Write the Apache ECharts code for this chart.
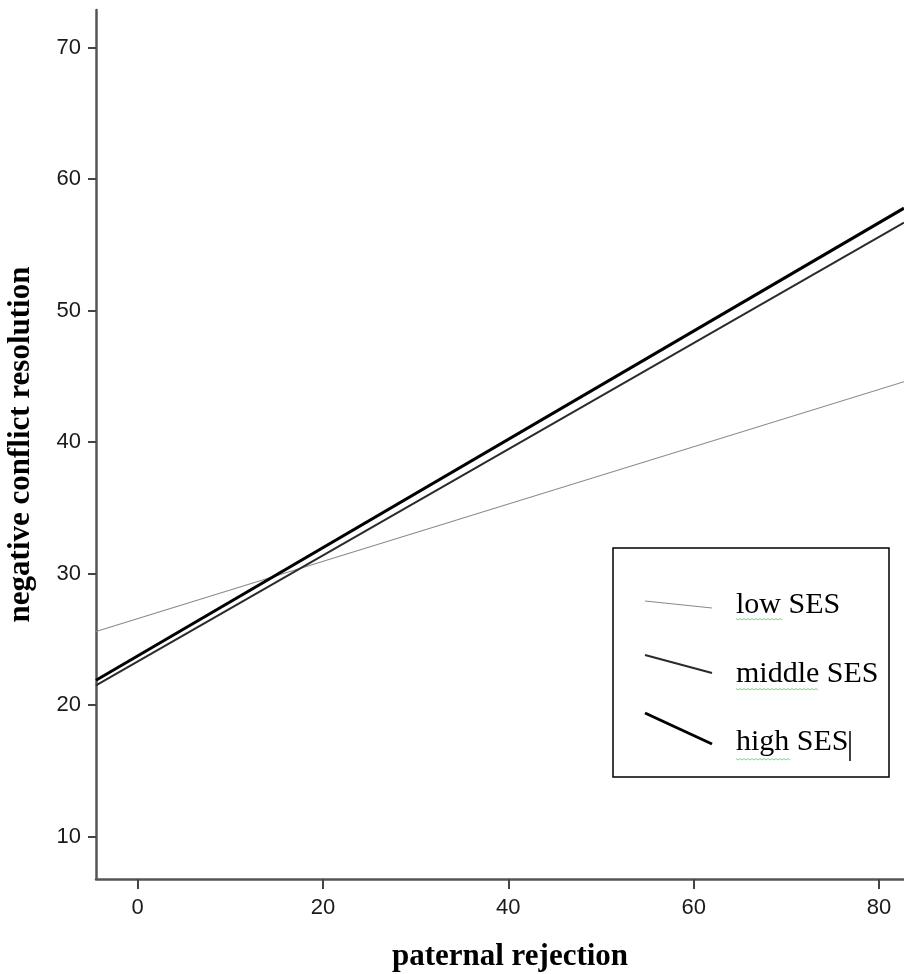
<!DOCTYPE html>
<html>
<head>
<meta charset="utf-8">
<script src="https://cdn.jsdelivr.net/npm/echarts@6/dist/echarts.min.js"></script>
<style>
html,body{margin:0;padding:0;background:#fff;}
#chart{width:904px;height:974px;}
</style>
</head>
<body>
<div id="chart"></div>
<script>
// Data (fitted regression lines at the x-axis extremes)
const xEnds = [-4.5, 82.7];
const lowSES = [25.6, 44.6];
const middleSES = [21.5, 56.7];
const highSES = [21.9, 57.8];
const xTicks = [0, 20, 40, 60, 80];
const yTicks = [10, 20, 30, 40, 50, 60, 70];
const seriesNames = ['low SES', 'middle SES', 'high SES'];

const pairs = v => xEnds.map((x, i) => [x, v[i]]);

const chart = echarts.init(document.getElementById('chart'));
const serifName = {fontFamily: 'Liberation Serif', fontWeight: 'bold', fontSize: 31, color: '#000'};
const tickFont = {fontFamily: 'Liberation Sans', fontSize: 22, color: '#1a1a1a'};

function legendItem(y, idx, lw, color, y1, y2) {
  return [
    {type: 'line', shape: {x1: 645, y1: y1, x2: 712, y2: y2}, style: {stroke: color, lineWidth: lw}},
    {type: 'text', x: 736, y: y, style: {text: seriesNames[idx], font: '30px "Liberation Serif"', fill: '#000', verticalAlign: 'middle'}}
  ];
}
function squiggle(x1, x2, y) {
  const pts = [];
  for (let x = x1, k = 0; x <= x2; x += 2, k++) pts.push([x, y + (k % 2 ? 1 : -0.5)]);
  return {type: 'polyline', shape: {points: pts}, style: {stroke: '#6bbf6b', lineWidth: 0.8, fill: null}};
}

chart.setOption({
  animation: false,
  backgroundColor: '#fff',
  grid: {left: 96, top: 10, right: 0, bottom: 95, containLabel: false, outerBoundsMode: 'none'},
  xAxis: {
    type: 'value', min: xEnds[0], max: xEnds[1],
    name: 'paternal rejection', nameLocation: 'middle', nameGap: 62,
    nameTextStyle: Object.assign({padding: [0, 0, 0, 20]}, serifName),
    axisLine: {show: true, onZero: false, lineStyle: {color: '#555', width: 2.5}},
    axisTick: {show: true, length: 10, customValues: xTicks, lineStyle: {color: '#444', width: 2}},
    axisLabel: Object.assign({customValues: xTicks, margin: 18}, tickFont),
    splitLine: {show: false}
  },
  yAxis: {
    type: 'value', min: 6.78, max: 72.87,
    name: 'negative conflict resolution', nameLocation: 'middle', nameGap: 60, nameTextStyle: serifName,
    axisLine: {show: true, onZero: false, lineStyle: {color: '#555', width: 2.5}},
    axisTick: {show: true, length: 8, customValues: yTicks, lineStyle: {color: '#444', width: 2}},
    axisLabel: Object.assign({customValues: yTicks, margin: 15}, tickFont),
    splitLine: {show: false}
  },
  series: [
    {name: seriesNames[0], type: 'line', data: pairs(lowSES), showSymbol: false, lineStyle: {color: '#8a8a8a', width: 1.2}, z: 2},
    {name: seriesNames[1], type: 'line', data: pairs(middleSES), showSymbol: false, lineStyle: {color: '#2a2a2a', width: 2}, z: 3},
    {name: seriesNames[2], type: 'line', data: pairs(highSES), showSymbol: false, lineStyle: {color: '#000', width: 3}, z: 4}
  ],
  graphic: [
    {type: 'rect', shape: {x: 613, y: 548, width: 276, height: 229}, style: {fill: '#fff', stroke: '#000', lineWidth: 1.5}, z: 10},
    ...legendItem(605, 0, 1.2, '#8a8a8a', 601, 608).map(e => Object.assign(e, {z: 11})),
    ...legendItem(674, 1, 2, '#2a2a2a', 655, 673).map(e => Object.assign(e, {z: 11})),
    ...legendItem(742, 2, 3, '#000', 713, 744).map(e => Object.assign(e, {z: 11})),
    Object.assign(squiggle(736, 782, 619), {z: 12}),
    Object.assign(squiggle(736, 818, 689), {z: 12}),
    Object.assign(squiggle(736, 791, 759), {z: 12}),
    {type: 'line', shape: {x1: 850, y1: 731, x2: 850, y2: 761}, style: {stroke: '#000', lineWidth: 1.5}, z: 12}
  ]
});
</script>
</body>
</html>
